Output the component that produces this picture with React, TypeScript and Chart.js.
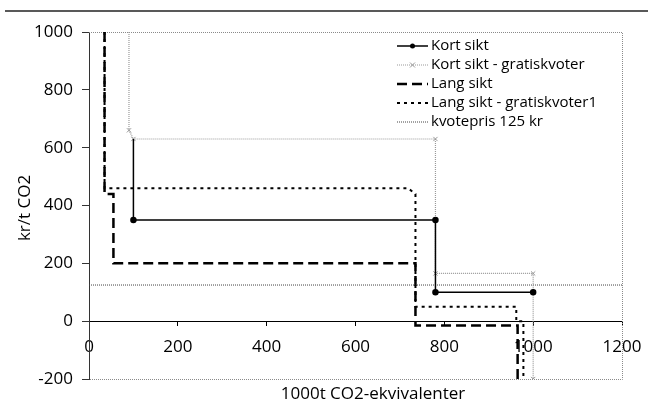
import React, { useEffect, useRef } from "react";
import { Chart, registerables } from "chart.js";

Chart.register(...registerables);

const FONT = "'Open Sans', 'DejaVu Sans', sans-serif";

// Series data
const seriesNames = [
  "Kort sikt",
  "Kort sikt - gratiskvoter",
  "Lang sikt",
  "Lang sikt - gratiskvoter1",
  "kvotepris 125 kr",
];
const kortX = [100, 100, 780, 780, 1000];
const kortY = [630, 350, 350, 100, 100];
const kortGratisX = [90, 90, 100, 780, 780, 1000, 1000];
const kortGratisY = [1000, 660, 630, 630, 165, 165, -200];
const langX = [35, 35, 55, 55, 735, 735, 965, 965];
const langY = [1000, 440, 440, 200, 200, -15, -15, -200];
const langGratisX = [35, 35, 718, 735, 735, 962, 962, 978, 978];
const langGratisY = [1000, 460, 460, 440, 50, 50, 0, 0, -200];
const kvoteX = [0, 1200];
const kvoteY = [125, 125];

const xTickValues = [0, 200, 400, 600, 800, 1000, 1200];
const yTickValues = [-200, 0, 200, 400, 600, 800, 1000];
const xTitle = "1000t CO2-ekvivalenter";
const yTitle = "kr/t CO2";

const pts = (xs: number[], ys: number[]) => xs.map((x, i) => ({ x, y: ys[i] }));

const frame = {
  id: "frame",
  beforeDatasetsDraw(chart: any) {
    const { ctx, chartArea: a } = chart;
    ctx.save();
    ctx.strokeStyle = "#8a8a8a";
    ctx.lineWidth = 1;
    ctx.setLineDash([1, 1]);
    ctx.beginPath();
    ctx.moveTo(a.left, a.top + 0.5);
    ctx.lineTo(a.right + 0.5, a.top + 0.5);
    ctx.lineTo(a.right + 0.5, a.bottom + 0.5);
    ctx.lineTo(a.left, a.bottom + 0.5);
    ctx.stroke();
    ctx.restore();
  },
  afterDraw(chart: any) {
    const { ctx } = chart;
    ctx.save();
    // top rule
    ctx.strokeStyle = "#222";
    ctx.lineWidth = 1.5;
    ctx.beginPath();
    ctx.moveTo(5, 11);
    ctx.lineTo(648, 11);
    ctx.stroke();

    // titles
    ctx.fillStyle = "#000";
    ctx.font = `17px ${FONT}`;
    ctx.textAlign = "center";
    ctx.textBaseline = "middle";
    ctx.fillText(xTitle, 373, 394);
    ctx.save();
    ctx.translate(25, 208);
    ctx.rotate(-Math.PI / 2);
    ctx.fillText(yTitle, 0, 0);
    ctx.restore();

    // legend
    const x0 = 397, x1 = 428, tx = 431;
    const rowY = (i: number) => 46 + i * 19;
    chart.data.datasets.forEach((ds: any, i: number) => {
      const y = rowY(i);
      ctx.save();
      ctx.strokeStyle = ds.borderColor;
      ctx.lineWidth = ds.borderWidth;
      ctx.setLineDash(ds.borderDash || []);
      ctx.beginPath();
      ctx.moveTo(x0, y);
      ctx.lineTo(x1, y);
      ctx.stroke();
      ctx.setLineDash([]);
      if (ds.legendMarker === "circle") {
        ctx.fillStyle = "#000";
        ctx.beginPath();
        ctx.arc((x0 + x1) / 2, y, 2.5, 0, Math.PI * 2);
        ctx.fill();
      } else if (ds.legendMarker === "cross") {
        ctx.strokeStyle = "#999";
        ctx.lineWidth = 1;
        const c = (x0 + x1) / 2, r = 2.5;
        ctx.beginPath();
        ctx.moveTo(c - r, y - r); ctx.lineTo(c + r, y + r);
        ctx.moveTo(c - r, y + r); ctx.lineTo(c + r, y - r);
        ctx.stroke();
      }
      ctx.fillStyle = "#000";
      ctx.font = `15px ${FONT}`;
      ctx.textAlign = "left";
      ctx.textBaseline = "middle";
      ctx.fillText(ds.label, tx, y);
      ctx.restore();
    });
    ctx.restore();
  },
};

export default function App() {
  const ref = useRef<HTMLCanvasElement>(null);
  useEffect(() => {
    document.body.style.margin = "0";
    const chart = new Chart(ref.current as HTMLCanvasElement, {
      type: "scatter",
      data: {
        datasets: [
          {
            label: seriesNames[0],
            data: pts(kortX, kortY),
            showLine: true,
            borderColor: "#000",
            backgroundColor: "#000",
            borderWidth: 1.5,
            pointRadius: (c: any) => (c.dataIndex === 0 ? 0 : 2.5),
            pointStyle: "circle",
            legendMarker: "circle",
          } as any,
          {
            label: seriesNames[1],
            data: pts(kortGratisX, kortGratisY),
            showLine: true,
            borderColor: "#9a9a9a",
            backgroundColor: "#9a9a9a",
            borderWidth: 1.2,
            borderDash: [1, 1],
            pointRadius: (c: any) => (c.dataIndex === 0 ? 0 : 3),
            pointStyle: "crossRot",
            pointBorderWidth: 1,
            legendMarker: "cross",
          } as any,
          {
            label: seriesNames[2],
            data: pts(langX, langY),
            showLine: true,
            borderColor: "#000",
            borderWidth: 2.5,
            borderDash: [10, 5],
            pointRadius: 0,
          } as any,
          {
            label: seriesNames[3],
            data: pts(langGratisX, langGratisY),
            showLine: true,
            borderColor: "#000",
            borderWidth: 2,
            borderDash: [3, 4],
            pointRadius: 0,
          } as any,
          {
            label: seriesNames[4],
            data: pts(kvoteX, kvoteY),
            showLine: true,
            borderColor: "#444",
            borderWidth: 1,
            borderDash: [1, 1],
            pointRadius: 0,
          } as any,
        ],
      },
      options: {
        animation: false,
        responsive: false,
        events: [],
        layout: { padding: { left: 0, top: 32, right: 26, bottom: 30 } },
        plugins: { legend: { display: false }, tooltip: { enabled: false } },
        elements: { line: { tension: 0 } },
        scales: {
          x: {
            type: "linear",
            position: { y: 0 } as any,
            min: 0,
            max: 1200,
            afterBuildTicks: (s: any) => {
              s.ticks = xTickValues.map((v) => ({ value: v }));
            },
            afterFit: (s: any) => {
              s.paddingLeft = 0;
              s.paddingRight = 0;
            },
            grid: { drawOnChartArea: false, drawTicks: true, tickLength: 4, color: "#000" },
            border: { display: true, color: "#000", width: 1 },
            ticks: {
              color: "#000",
              font: { family: FONT, size: 17 },
              padding: 12,
              maxRotation: 0,
              callback: (v: any) => String(v),
            },
          },
          y: {
            type: "linear",
            min: -200,
            max: 1000,
            afterBuildTicks: (s: any) => {
              s.ticks = yTickValues.map((v) => ({ value: v }));
            },
            afterFit: (s: any) => {
              s.width = 89;
              s.paddingTop = 0;
              s.paddingBottom = 0;
            },
            grid: { drawOnChartArea: false, drawTicks: true, tickLength: 7, color: "#333" },
            border: { display: true, color: "#333", width: 1, dash: [1, 1] },
            ticks: {
              color: "#000",
              font: { family: FONT, size: 17 },
              padding: 9,
              callback: (v: any) => String(v),
            },
          },
        },
      },
      plugins: [frame],
    } as any);
    return () => chart.destroy();
  }, []);
  return (
    <div style={{ position: "fixed", left: 0, top: 0, width: 648, height: 409, background: "#fff" }}>
      <canvas ref={ref} width={648} height={409} style={{ width: 648, height: 409 }} />
    </div>
  );
}
